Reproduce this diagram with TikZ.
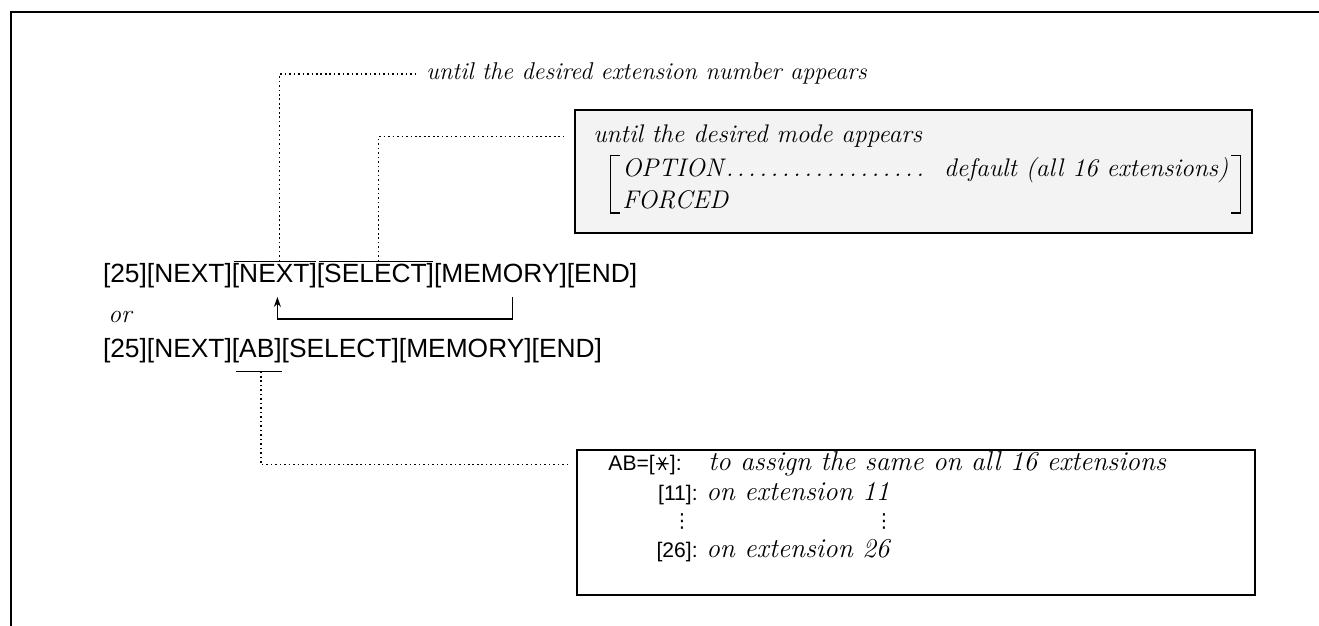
\documentclass[tikz,border=0pt]{standalone}
\usepackage{fontspec}
\usepackage{amsmath}
\usepackage{tikz}
\usetikzlibrary{arrows.meta,positioning,fit}
\newfontfamily\keyfont{Liberation Sans}
\newfontfamily\symfont{DejaVu Sans}
\definecolor{speckle}{HTML}{F3F3F3}
% six-armed star key (no installed font has the sextile glyph)
\newcommand{\starglyph}{\tikz[baseline=-0.3em]{\path (-0.36em,0) (0.36em,0);
  \draw[line width=0.06em] (-0.3em,0) -- (0.3em,0)
    (-0.17em,-0.29em) -- (0.17em,0.29em) (-0.17em,0.29em) -- (0.17em,-0.29em);}}

\begin{document}
\begin{tikzpicture}[
  x=0.2mm, y=-0.2mm,
  key/.style={font=\keyfont\fontsize{15}{18}\selectfont,inner sep=0pt,outer sep=0pt},
  keysm/.style={font=\keyfont\fontsize{12}{14}\selectfont,inner sep=0pt,anchor=base east},
  note/.style={font=\itshape\fontsize{14.5}{17.5}\selectfont,inner sep=0pt,anchor=base west},
  notebig/.style={note,font=\itshape\fontsize{15.5}{18.5}\selectfont},
  vdots/.style={font=\symfont\fontsize{11}{13}\selectfont,inner sep=0pt},
  panel/.style={draw,line width=0.9pt,inner sep=0pt},
  dots/.style={line width=0.9pt,dash pattern=on 0.9pt off 1.65pt},
  bar/.style={line width=0.7pt},
  brk/.style={line width=0.8pt},
  ar/.style={-{Stealth[length=2mm,width=1.4mm]},line width=0.7pt},
]

% ---- page and frame
\useasboundingbox (0,0) rectangle (1319,626);
\draw[line width=1.1pt] (11,626) -- (11,12) -- (1319,12);

% ---- first key sequence
\node[key,anchor=base west] (a1) at (103,283) {[25]};
\node[key,right=0pt of a1] (a2) {[NEXT]};
\node[key,right=0pt of a2] (a3) {[NEXT]};
\node[key,right=0pt of a3] (a4) {[SELECT]};
\node[key,right=0pt of a4] (a5) {[MEMORY]};
\node[key,right=0pt of a5] (a6) {[END]};
\draw[bar] ([xshift=0.4mm,yshift=0.5mm]a3.north west) -- ([xshift=-0.2mm,yshift=0.5mm]a3.north east);
\draw[bar] ([xshift=0.4mm,yshift=0.5mm]a4.north west) -- ([xshift=-0.2mm,yshift=0.5mm]a4.north east);

% ---- repeat loop
\draw[ar] ([xshift=2.4mm,yshift=-1.8mm]a5.south) -- ++(0,-4.3mm)
  -| ([xshift=0.6mm,yshift=-1.7mm]a3.south);

\node[note] (orword) at (108,322) {or};

% ---- second key sequence
\node[key,anchor=base west] (b1) at (103,358) {[25]};
\node[key,right=0pt of b1] (b2) {[NEXT]};
\node[key,right=0pt of b2] (b3) {[AB]};
\node[key,right=0pt of b3] (b4) {[SELECT]};
\node[key,right=0pt of b4] (b5) {[MEMORY]};
\node[key,right=0pt of b5] (b6) {[END]};
\draw[bar] ([xshift=0.8mm,yshift=-1.6mm]b3.south west) -- ([yshift=-1.6mm]b3.south east);

% ---- extension note
\node[note,font=\itshape\fontsize{13.8}{16.5}\selectfont] (extlbl) at (426,80)
  {until the desired extension number appears};
\draw[dots,shorten >=2mm] ([xshift=1mm,yshift=0.5mm]a3.north) |- (extlbl.west);

% ---- mode box
\node[panel,fill=speckle,fit={(575,110) (1252,233)}] (modebox) {};
\node[note] (modelbl) at (593,143) {until the desired mode appears};
\node[note] (opt) at (622,177)
  {\makebox[121.2mm][l]{OPTION\dotfill\hspace{0.7em}default (all 16 extensions)}};
\node[note] (forced) at (622,209) {FORCED};
\coordinate (rb) at (opt.east |- forced.south);
\draw[brk] ([xshift=-0.5mm,yshift=0.4mm]opt.north west) -- ++(-1.8mm,0)
  |- ([xshift=-0.5mm,yshift=-0.6mm]forced.south west);
\draw[brk] ([xshift=0.5mm,yshift=0.4mm]opt.north east) -- ++(1.8mm,0)
  |- ([xshift=0.5mm,yshift=-0.6mm]rb);
\draw[dots,shorten >=2.2mm] ([xshift=0.6mm,yshift=0.5mm]a4.north) |- (modebox.west |- modelbl.west);

% ---- AB box
\node[panel,fit={(577,450) (1255,595)}] (abbox) {};
\node[keysm] (ab0) at (682,470) {AB=[\starglyph]:};
\node[notebig] (ab0txt) at (708,470) {to assign the same on all 16 extensions};
\node[keysm] (ab1) at (698,500) {[11]:};
\node[notebig] (ab1txt) at (706,500) {on extension 11};
\node[vdots] (vdl) at (682,521) {⋮};
\node[vdots] (vdr) at (884,521) {⋮};
\node[keysm] (ab2) at (698,557) {[26]:};
\node[notebig] (ab2txt) at (706,557) {on extension 26};
\draw[dots,shorten >=1.8mm] ([xshift=0.8mm,yshift=-1.6mm]b3.south) |- (abbox.west |- ab0.west);
\end{tikzpicture}
\end{document}
